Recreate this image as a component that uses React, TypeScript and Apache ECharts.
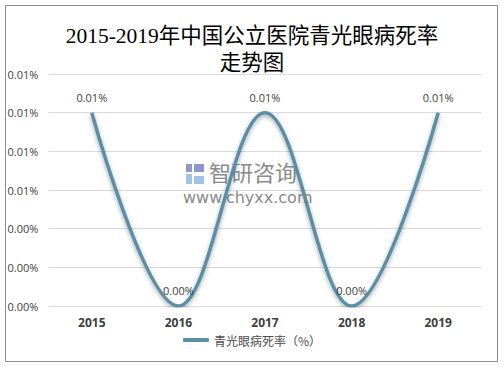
import React, { useEffect, useRef } from "react";
import * as echarts from "echarts";

const years = ["2015", "2016", "2017", "2018", "2019"];
const rates = [0.01, 0, 0.01, 0, 0.01];
const seriesName = "青光眼病死率（%）";
const titleText = "2015-2019年中国公立医院青光眼病死率\n走势图";

export default function App() {
  const ref = useRef<HTMLDivElement>(null);
  useEffect(() => {
    const chart = echarts.init(ref.current!, null, { renderer: "svg" });
    chart.setOption({
      animation: false,
      backgroundColor: "#ffffff",
      title: {
        text: titleText,
        left: "center",
        top: 17,
        textStyle: {
          fontFamily: "'Liberation Serif', 'Noto Sans CJK SC', serif",
          fontSize: 21.5,
          fontWeight: "normal",
          color: "#000000",
          lineHeight: 27,
        },
      },
      grid: { left: 48.5, right: 22.5, top: 74, bottom: 62 },
      legend: {
        bottom: 17,
        left: "center",
        icon: "roundRect",
        itemWidth: 26,
        itemHeight: 4,
        itemGap: 4,
        textStyle: {
          fontFamily: "'Noto Sans CJK SC', sans-serif",
          fontSize: 12,
          color: "#4d4d4d",
        },
        data: [seriesName],
      },
      xAxis: {
        type: "category",
        data: years,
        boundaryGap: true,
        axisLine: { show: false },
        axisTick: { show: false },
        axisLabel: {
          margin: 10,
          fontFamily: "'Open Sans', 'DejaVu Sans', sans-serif",
          fontWeight: "bold",
          fontSize: 12,
          color: "#404040",
        },
      },
      yAxis: {
        type: "value",
        min: 0,
        max: 0.012,
        interval: 0.002,
        axisLine: { show: false },
        axisTick: { show: false },
        splitLine: { lineStyle: { color: "#d9d9d9", width: 1 } },
        axisLabel: {
          align: "left",
          margin: 41,
          fontFamily: "'Open Sans', 'DejaVu Sans', sans-serif",
          fontSize: 11,
          color: "#404040",
          formatter: (v: number) => v.toFixed(2) + "%",
        },
      },
      graphic: [
        {
          type: "rect",
          shape: { x: 5.5, y: 5.5, width: 492, height: 356 },
          style: { fill: "none", stroke: "#8c8c8c", lineWidth: 1 },
          silent: true,
        },
        {
          type: "group",
          z: -1,
          silent: true,
          children: [
            { type: "rect", shape: { x: 186, y: 164, width: 6, height: 8 }, style: { fill: "#8d97c8" } },
            { type: "rect", shape: { x: 194, y: 164, width: 10, height: 8 }, style: { fill: "#8d97c8" } },
            { type: "rect", shape: { x: 186, y: 174, width: 6, height: 10 }, style: { fill: "#9fc3e6" } },
            { type: "rect", shape: { x: 194, y: 176, width: 10, height: 8 }, style: { fill: "#9fc3e6" } },
            {
              type: "text",
              x: 209,
              y: 160,
              style: {
                text: "智研咨询",
                font: "22px 'Noto Sans CJK SC', sans-serif",
                fill: "#8a8a8a",
              },
            },
            {
              type: "text",
              x: 183,
              y: 189,
              style: {
                text: "www.chyxx.com",
                font: "16px 'DejaVu Sans', sans-serif",
                fill: "#8a8a8a",
              },
            },
          ],
        },
      ],
      series: [
        {
          name: seriesName,
          type: "line",
          data: rates,
          smooth: 0.38,
          symbol: "circle",
          symbolSize: 0.1,
          showSymbol: true,
          lineStyle: {
            color: "#5b8fa5",
            width: 3.5,
            shadowColor: "rgba(0,0,0,0.35)",
            shadowBlur: 4,
            shadowOffsetY: 2,
          },
          itemStyle: { color: "#5b8fa5" },
          label: {
            show: true,
            position: "top",
            distance: 10,
            fontFamily: "'Open Sans', 'DejaVu Sans', sans-serif",
            fontSize: 11,
            color: "#404040",
            formatter: (p: any) => Number(p.value).toFixed(2) + "%",
          },
        },
      ],
    });
    return () => chart.dispose();
  }, []);
  return (
    <div
      ref={ref}
      style={{ position: "fixed", left: 0, top: 0, width: 504, height: 368 }}
    />
  );
}
